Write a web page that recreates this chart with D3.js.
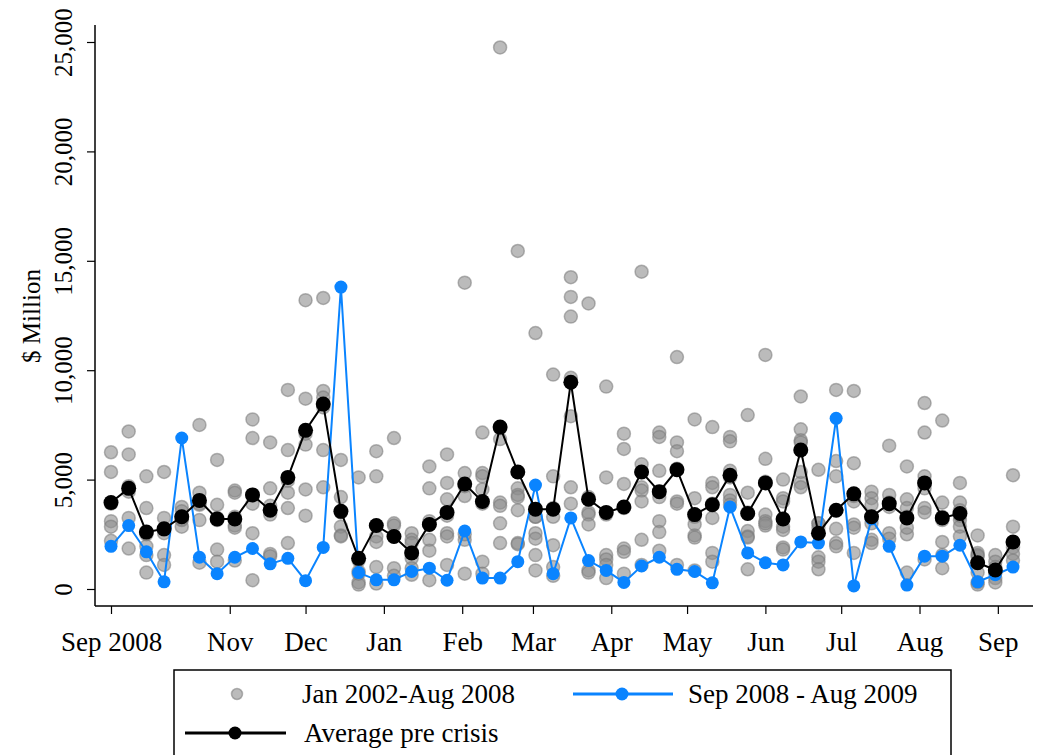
<!DOCTYPE html>
<html>
<head>
<meta charset="utf-8">
<script src="https://cdn.jsdelivr.net/npm/d3@7"></script>
<style>
  body { margin: 0; background: #fff; }
  svg text { font-family: "Liberation Serif", "Times New Roman", serif; fill: #000; }
</style>
</head>
<body>
<div id="chart"></div>
<script>
// week starting dates, Sep 2008 - Sep 2009
const weeks = [
  "2008-09-15","2008-09-22","2008-09-29","2008-10-06","2008-10-13","2008-10-20","2008-10-27",
  "2008-11-03","2008-11-10","2008-11-17","2008-11-24","2008-12-01","2008-12-08","2008-12-15",
  "2008-12-22","2008-12-29","2009-01-05","2009-01-12","2009-01-19","2009-01-26","2009-02-02",
  "2009-02-09","2009-02-16","2009-02-23","2009-03-02","2009-03-09","2009-03-16","2009-03-23",
  "2009-03-30","2009-04-06","2009-04-13","2009-04-20","2009-04-27","2009-05-04","2009-05-11",
  "2009-05-18","2009-05-25","2009-06-01","2009-06-08","2009-06-15","2009-06-22","2009-06-29",
  "2009-07-06","2009-07-13","2009-07-20","2009-07-27","2009-08-03","2009-08-10","2009-08-17",
  "2009-08-24","2009-08-31","2009-09-07"
];

// values in thousands of $ million
const avgPreCrisis = [
  3.95, 4.6, 2.6, 2.75, 3.3, 4.05, 3.2, 3.2, 4.3, 3.6, 5.1, 7.25, 8.45,
  3.55, 1.4, 2.9, 2.4, 1.65, 2.95, 3.5, 4.8, 4.0, 7.4, 5.35, 3.65, 3.65,
  9.45, 4.1, 3.5, 3.75, 5.35, 4.45, 5.45, 3.4, 3.85, 5.2, 3.45, 4.85, 3.2,
  6.35, 2.55, 3.6, 4.35, 3.3, 3.9, 3.25, 4.85, 3.25, 3.45, 1.2, 0.87, 2.15
];

const crisisYear = [
  1.95, 2.9, 1.7, 0.33, 6.9, 1.45, 0.7, 1.45, 1.85, 1.15, 1.4, 0.38, 1.9,
  13.8, 0.75, 0.42, 0.42, 0.8, 0.95, 0.4, 2.65, 0.5, 0.5, 1.25, 4.75, 0.7,
  3.25, 1.3, 0.85, 0.3, 1.05, 1.45, 0.9, 0.8, 0.28, 3.75, 1.65, 1.2, 1.1,
  2.15, 2.1, 7.8, 0.14, 3.2, 1.95, 0.18, 1.5, 1.5, 2.0, 0.33, 0.65, 1.0
];

// same week in earlier years, Jan 2002 - Aug 2008
const history = [
  [6.25, 5.35, 3.1, 2.85, 2.2, 3.9],
  [7.2, 6.15, 3.25, 1.85, 4.7, 4.45],
  [5.15, 3.7, 1.95, 1.55, 0.75, 2.5],
  [5.35, 3.25, 1.55, 1.1, 2.7, 2.55],
  [3.75, 3.55, 2.85, 3.3, 3.2, 3.15],
  [7.5, 4.4, 3.15, 1.2, 3.9, 3.85],
  [5.9, 3.85, 3.15, 1.8, 1.25, 3.25],
  [4.5, 4.4, 2.9, 2.8, 3.3, 1.3],
  [7.75, 6.9, 3.9, 2.55, 0.4, 4.3],
  [6.7, 4.6, 3.8, 1.6, 1.5, 3.4],
  [9.1, 6.35, 4.4, 3.7, 2.1, 4.95],
  [13.2, 8.7, 6.6, 4.55, 3.35, 7.1],
  [13.3, 9.05, 8.75, 6.35, 4.65, 8.3],
  [5.9, 4.2, 2.85, 2.45, 2.4, 3.5],
  [5.1, 0.3, 0.2, 1.3, 0.8, 0.7],
  [6.3, 5.15, 2.4, 2.15, 1.0, 0.25],
  [6.9, 3.0, 2.9, 2.4, 0.95, 0.6],
  [2.55, 2.25, 2.1, 1.65, 0.65, 1.4, 0.95],
  [5.6, 4.6, 2.25, 1.75, 0.4, 3.1, 2.95],
  [6.15, 4.85, 4.1, 2.55, 2.4, 1.1, 3.35],
  [14.0, 5.3, 4.25, 2.25, 0.7, 4.7, 2.5],
  [7.15, 5.3, 5.15, 4.55, 1.25, 3.9, 0.7],
  [24.75, 6.85, 3.95, 3.8, 3.0, 2.1, 7.35],
  [15.45, 4.6, 4.3, 4.2, 3.6, 2.1, 2.05],
  [11.7, 3.3, 2.55, 2.3, 1.55, 0.85, 3.3],
  [9.8, 5.15, 3.3, 2.0, 3.7, 1.0, 0.6],
  [14.25, 13.35, 12.45, 7.9, 4.65, 3.9, 9.65],
  [13.05, 3.5, 3.4, 2.95, 0.85, 0.75, 4.2],
  [9.25, 5.1, 1.55, 1.35, 1.1, 0.5, 3.4],
  [7.1, 6.4, 4.8, 1.85, 1.7, 0.7, 3.7],
  [14.5, 5.7, 4.65, 4.5, 4.0, 2.25, 1.1],
  [7.15, 6.95, 5.4, 3.1, 2.6, 1.75, 4.2],
  [10.6, 6.7, 6.3, 4.0, 3.9, 1.1, 5.5],
  [7.75, 4.15, 2.95, 2.45, 2.35, 0.85, 3.3],
  [7.4, 4.85, 4.65, 1.65, 1.25, 3.9, 3.25],
  [6.95, 6.75, 5.4, 5.1, 4.3, 4.05, 3.85],
  [7.95, 4.4, 2.65, 2.4, 0.9, 3.5, 2.35],
  [10.7, 5.95, 3.4, 3.1, 2.9, 4.9, 3.0],
  [5.0, 4.15, 4.0, 2.85, 1.9, 1.8, 2.7],
  [8.8, 7.3, 6.8, 6.7, 4.85, 4.65, 5.35],
  [5.45, 3.0, 2.8, 1.45, 1.25, 0.9, 3.0],
  [9.1, 5.85, 5.15, 2.75, 2.1, 1.95],
  [9.05, 5.75, 4.0, 2.95, 2.8, 1.65, 4.25],
  [4.45, 4.15, 3.85, 2.25, 2.1, 3.3, 3.0],
  [6.55, 4.3, 3.9, 3.75, 2.55, 3.95, 2.3],
  [5.6, 4.1, 3.7, 2.5, 0.75, 3.3, 2.8],
  [8.5, 7.15, 5.15, 3.7, 3.5, 4.6, 1.35],
  [7.7, 3.95, 2.15, 1.55, 0.95, 3.3, 3.15],
  [4.85, 3.95, 3.6, 3.15, 2.85, 2.4, 3.35],
  [2.45, 1.65, 0.75, 0.3, 0.2, 1.5, 1.55],
  [1.55, 1.25, 0.75, 0.5, 0.3, 1.0, 0.75],
  [5.2, 2.85, 1.9, 1.6, 1.3]
];

const yTicks = [0, 5000, 10000, 15000, 20000, 25000];
const xTickDates = ["2008-09-15","2008-11-01","2008-12-01","2009-01-01","2009-02-01","2009-03-01",
                    "2009-04-01","2009-05-01","2009-06-01","2009-07-01","2009-08-01","2009-09-01"];
const xTickLabels = ["Sep 2008","Nov","Dec","Jan","Feb","Mar","Apr","May","Jun","Jul","Aug","Sep"];

const legendItems = ["Jan 2002-Aug 2008", "Sep 2008 - Aug 2009", "Average pre crisis"];

const parse = d3.timeParse("%Y-%m-%d");
const dates = weeks.map(parse);
const blue = "#0a84ff";

const width = 1049, height = 755;
const svg = d3.select("#chart").append("svg")
    .attr("width", width)
    .attr("height", height);

// scales
const x = d3.scaleTime()
    .domain([dates[0], dates[dates.length - 1]])
    .range([111, 1013]);
const y = d3.scaleLinear()
    .domain([0, 25000])
    .range([589, 42]);
const val = v => y(v * 1000);

// axes
const yAxis = svg.append("g")
    .attr("transform", "translate(95,0)")
    .call(d3.axisLeft(y).tickValues(yTicks).tickSize(8).tickFormat(d3.format(",")));
yAxis.select(".domain").remove();
yAxis.selectAll(".tick line").attr("stroke", "#000").attr("stroke-width", 1.2);
yAxis.selectAll(".tick text")
    .attr("transform", "rotate(-90)")
    .attr("x", 0).attr("y", -23).attr("dy", 0)
    .attr("text-anchor", "middle")
    .style("font-size", "25px");

const xAxis = svg.append("g")
    .attr("transform", "translate(0,606)")
    .call(d3.axisBottom(x).tickValues(xTickDates.map(parse)).tickSize(8)
        .tickFormat((d, i) => xTickLabels[i]));
xAxis.select(".domain").remove();
xAxis.selectAll(".tick line").attr("stroke", "#000").attr("stroke-width", 1.2);
xAxis.selectAll(".tick text")
    .attr("y", 45).attr("dy", 0)
    .style("font-size", "27px");

// axis lines
svg.append("line").attr("x1", 95).attr("x2", 95).attr("y1", 25).attr("y2", 606)
    .attr("stroke", "#000").attr("stroke-width", 1.5);
svg.append("line").attr("x1", 95).attr("x2", 1033).attr("y1", 606).attr("y2", 606)
    .attr("stroke", "#000").attr("stroke-width", 1.5);

svg.append("text")
    .attr("transform", "translate(40,316) rotate(-90)")
    .attr("text-anchor", "middle")
    .style("font-size", "25px")
    .text("$ Million");

// historical dots
const histPoints = [];
history.forEach((vals, i) => vals.forEach(v => histPoints.push({date: dates[i], v: v})));

svg.append("g").selectAll("circle")
    .data(histPoints)
    .join("circle")
    .attr("cx", d => x(d.date))
    .attr("cy", d => val(d.v))
    .attr("r", 6.5)
    .attr("fill", "#8e8e8e")
    .attr("fill-opacity", 0.6)
    .attr("stroke", "#7a7a7a")
    .attr("stroke-opacity", 0.55)
    .attr("stroke-width", 1.5);

const line = d3.line()
    .x((d, i) => x(dates[i]))
    .y(d => val(d));

// crisis year
svg.append("path")
    .datum(crisisYear)
    .attr("d", line)
    .attr("fill", "none")
    .attr("stroke", blue)
    .attr("stroke-width", 2);
svg.append("g").selectAll("circle")
    .data(crisisYear)
    .join("circle")
    .attr("cx", (d, i) => x(dates[i]))
    .attr("cy", d => val(d))
    .attr("r", 6.5)
    .attr("fill", blue);

// average pre crisis
svg.append("path")
    .datum(avgPreCrisis)
    .attr("d", line)
    .attr("fill", "none")
    .attr("stroke", "#000")
    .attr("stroke-width", 2);
svg.append("g").selectAll("circle")
    .data(avgPreCrisis)
    .join("circle")
    .attr("cx", (d, i) => x(dates[i]))
    .attr("cy", d => val(d))
    .attr("r", 7.5)
    .attr("fill", "#000");

// legend
const lg = svg.append("g");
lg.append("rect")
    .attr("x", 174).attr("y", 670)
    .attr("width", 777).attr("height", 100)
    .attr("fill", "#fff")
    .attr("stroke", "#000")
    .attr("stroke-width", 1.5);

lg.append("circle").attr("cx", 237).attr("cy", 694).attr("r", 5.5)
    .attr("fill", "#8e8e8e").attr("fill-opacity", 0.6)
    .attr("stroke", "#7a7a7a").attr("stroke-opacity", 0.55).attr("stroke-width", 1.5);
lg.append("text").attr("x", 302).attr("y", 703).style("font-size", "27px").text(legendItems[0]);

lg.append("line").attr("x1", 573).attr("x2", 673).attr("y1", 694).attr("y2", 694)
    .attr("stroke", blue).attr("stroke-width", 3);
lg.append("circle").attr("cx", 622).attr("cy", 694).attr("r", 6.5).attr("fill", blue);
lg.append("text").attr("x", 688).attr("y", 703).style("font-size", "27px").text(legendItems[1]);

lg.append("line").attr("x1", 185).attr("x2", 286).attr("y1", 733).attr("y2", 733)
    .attr("stroke", "#000").attr("stroke-width", 3);
lg.append("circle").attr("cx", 235).attr("cy", 733).attr("r", 6.5).attr("fill", "#000");
lg.append("text").attr("x", 304).attr("y", 742).style("font-size", "27px").text(legendItems[2]);
</script>
</body>
</html>
